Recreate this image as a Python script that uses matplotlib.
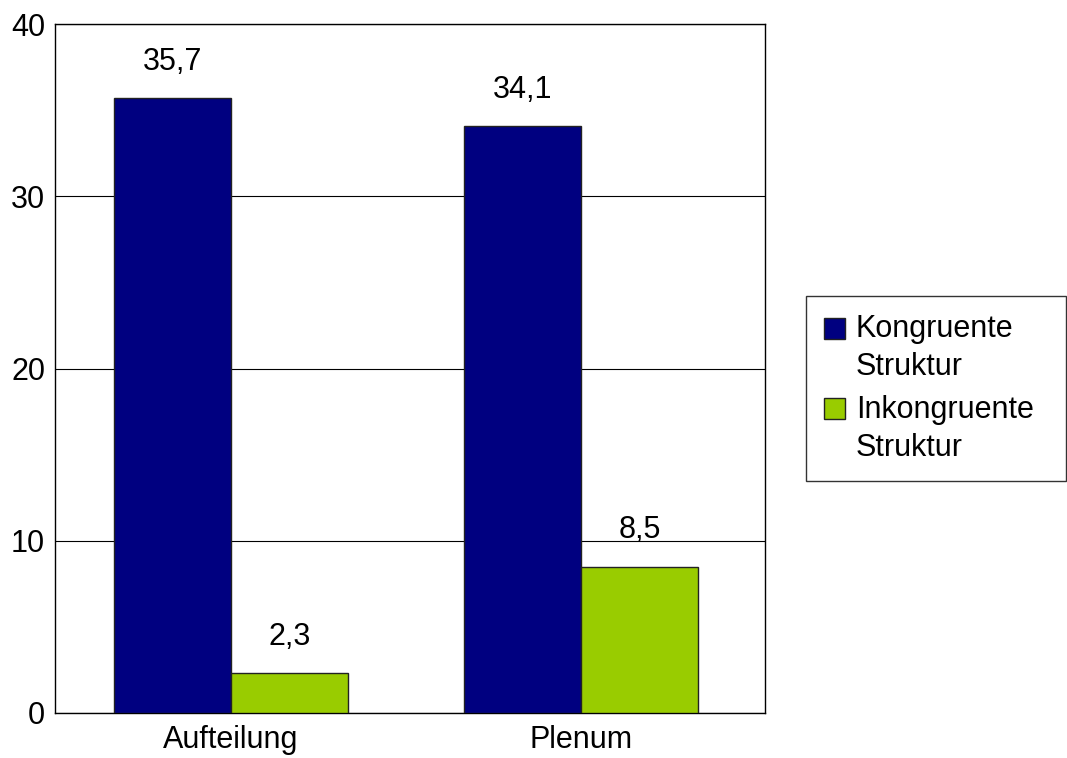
import matplotlib.pyplot as plt
import numpy as np
from matplotlib.container import BarContainer
from matplotlib.legend_handler import HandlerPatch, update_from_first_child
from matplotlib.patches import Rectangle

plt.rcParams['font.family'] = ['Liberation Sans', 'DejaVu Sans']

categories = ['Aufteilung', 'Plenum']
kongruent = [35.7, 34.1]
inkongruent = [2.3, 8.5]
series_labels = ['Kongruente\nStruktur', 'Inkongruente\nStruktur']
yticks = [0, 10, 20, 30, 40]

FS = 22

fig = plt.figure(figsize=(10.67, 7.58), dpi=100)
ax = fig.add_axes([0.0515, 0.0594, 0.6655, 0.9089])

x = np.arange(len(categories))
w = 0.335
b1 = ax.bar(x - w / 2, kongruent, w, color='#000080', edgecolor='#222222', linewidth=1, label=series_labels[0], zorder=3)
b2 = ax.bar(x + w / 2, inkongruent, w, color='#99cc00', edgecolor='#222222', linewidth=1, label=series_labels[1], zorder=3)

for bars in (b1, b2):
    for rect in bars:
        h = rect.get_height()
        ax.annotate(f'{h:.1f}'.replace('.', ','), (rect.get_x() + rect.get_width() / 2, h),
                    xytext=(0, 26), textcoords='offset points', ha='center', va='center',
                    fontsize=FS)

ax.set_xlim(-0.503, 1.526)
ax.set_ylim(0, 40)
ax.set_yticks(yticks)
ax.set_xticks(x)
ax.set_xticklabels(categories)
ax.tick_params(axis='y', length=0, labelsize=FS, pad=7)
ax.tick_params(axis='x', length=0, labelsize=FS, pad=9)
ax.yaxis.grid(True, color='black', linewidth=0.8, zorder=0)
for s in ax.spines.values():
    s.set_color('black')
    s.set_linewidth(1)


# Quadrat an der ersten Textzeile ausrichten
def square(legend, orig_handle, xdescent, ydescent, width, height, fontsize):
    return Rectangle((-xdescent, -ydescent + 0.68 * fontsize), width, height)


leg = fig.legend(loc='upper left', mode='expand',
                 bbox_to_anchor=(806 / 1067, 1 - 296 / 758, 260 / 1067, 0),
                 fontsize=FS, frameon=True, fancybox=False, edgecolor='black',
                 handlelength=0.66, handleheight=0.66, handletextpad=0.37,
                 borderpad=0.6, labelspacing=0.4, borderaxespad=0,
                 handler_map={BarContainer: HandlerPatch(patch_func=square,
                                                         update_func=update_from_first_child)})
for t in leg.get_texts():
    t.set_linespacing(1.35)
leg.get_frame().set_linewidth(1)

fig.savefig('out.png', dpi=100)
